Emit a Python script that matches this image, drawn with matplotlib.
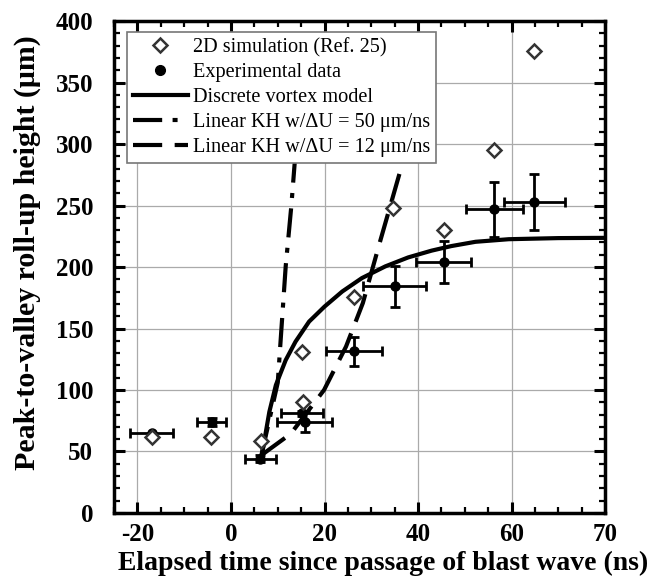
import numpy as np
import matplotlib
matplotlib.use("Agg")
import matplotlib.pyplot as plt
from matplotlib.lines import Line2D
from matplotlib.ticker import MultipleLocator

plt.rcParams["font.family"] = ["Liberation Serif", "DejaVu Serif"]

# ---------- data ----------
# 2D simulation (Ref. 25)
sim_t = [-16.9, -4.3, 6.5, 15.1, 15.4, 26.4, 34.7, 45.5, 56.3, 64.9]
sim_h = [61.8, 61.9, 58.4, 131.2, 90.0, 175.6, 247.6, 230.0, 295.0, 375.4]

# experimental data
exp_t = [-17.0, -4.1, 6.3, 15.2, 15.8, 26.3, 35.0, 45.5, 56.3, 64.9]
exp_h = [65.0, 74.0, 44.3, 81.0, 74.2, 131.5, 184.3, 204.0, 246.8, 252.8]
exp_terr = [4.7, 3.1, 3.3, 4.4, 5.9, 6.0, 6.7, 5.9, 6.1, 6.6]
exp_herr = [0.0, 3.0, 3.0, 2.0, 8.5, 11.7, 16.5, 17.0, 22.7, 22.7]

# discrete vortex model
dvm_t = [6.5, 8.2, 9.6, 11.7, 13.8, 16.7, 20.0, 23.8, 28.0, 33.0, 37.9,
         42.9, 47.1, 52.3, 59.4, 70.0, 80.0]
dvm_h = [45.0, 82.2, 104.0, 124.3, 139.3, 155.6, 167.8, 180.1, 191.0,
         200.5, 207.8, 213.3, 217.0, 220.5, 222.6, 223.5, 223.7]

# linear KH, dU = 50 um/ns
kh50_t = [6.5, 10.0, 11.7, 12.9, 13.6, 14.6]
kh50_h = [47.0, 106.0, 200.6, 249.5, 283.5, 340.0]

# linear KH, dU = 12 um/ns
kh12_t = [6.5, 12.8, 19.9, 24.6, 28.2, 31.7, 36.3]
kh12_h = [47.0, 64.5, 100.0, 135.3, 170.7, 218.3, 279.4]

xtick_pos = [-20, 0, 20, 40, 60, 80]
xtick_lab = ["-20", "0", "20", "40", "60", "70"]

# ---------- plot ----------
fig = plt.figure(figsize=(6.52, 5.84), dpi=100)
ax = fig.add_axes([0.175, 0.1216, 0.753, 0.8424])

ax.grid(True, color="#aaaaaa", linewidth=0.9)
ax.set_axisbelow(True)

l_dvm, = ax.plot(dvm_t, dvm_h, color="black", lw=3.0, zorder=3)
l_50, = ax.plot(kh50_t, kh50_h, color="black", lw=3.0, zorder=3,
                dashes=(7, 2.5, 1.2, 2.5))
l_12, = ax.plot(kh12_t, kh12_h, color="black", lw=3.0, zorder=3,
                dashes=(7, 3))

ax.errorbar(exp_t, exp_h, xerr=exp_terr, yerr=exp_herr, fmt="o",
            color="black", ms=6.5, elinewidth=2.0, capsize=3.5,
            capthick=2.0, zorder=4)
l_sim, = ax.plot(sim_t, sim_h, "D", ms=7.4, mfc="white", mec="#333333",
                 mew=1.8, zorder=5)
l_exp = Line2D([], [], ls="none", marker="o", ms=7, color="black")

ax.set_xlim(-25, 80)
ax.set_ylim(0, 400)
ax.set_xticks(xtick_pos)
ax.set_xticklabels(xtick_lab)
ax.xaxis.set_minor_locator(MultipleLocator(5))
ax.yaxis.set_major_locator(MultipleLocator(50))
ax.yaxis.set_minor_locator(MultipleLocator(10))

ax.tick_params(which="major", direction="in", length=8, width=2.2,
               top=True, right=True, labelsize=18)
ax.tick_params(axis="x", which="major", pad=7)
ax.tick_params(axis="y", which="major", pad=15)
ax.tick_params(which="minor", direction="in", length=4, width=1.6,
               top=True, right=True)
for lab in ax.get_xticklabels() + ax.get_yticklabels():
    lab.set_fontweight("bold")
for sp in ax.spines.values():
    sp.set_linewidth(2.5)

ax.set_xlabel("Elapsed time since passage of blast wave (ns)",
              fontsize=20, fontweight="bold")
ax.set_ylabel("Peak-to-valley roll-up height (μm)",
              fontsize=21.5, fontweight="bold")
ax.xaxis.set_label_coords(0.548, -0.077)
ax.yaxis.set_label_coords(-0.149, 0.53)

leg = ax.legend([l_sim, l_exp, l_dvm, l_50, l_12],
                ["2D simulation (Ref. 25)", "Experimental data",
                 "Discrete vortex model", "Linear KH w/ΔU = 50 μm/ns",
                 "Linear KH w/ΔU = 12 μm/ns"],
                loc="upper left", bbox_to_anchor=(0.026, 0.978),
                fontsize=14.6, frameon=True, fancybox=False, framealpha=1,
                edgecolor="#777777", handlelength=2.7, handletextpad=0.25,
                borderpad=0.3, labelspacing=0.28, borderaxespad=0)
leg.get_frame().set_linewidth(1.2)
leg.set_zorder(10)

plt.savefig("out.png", dpi=100)
